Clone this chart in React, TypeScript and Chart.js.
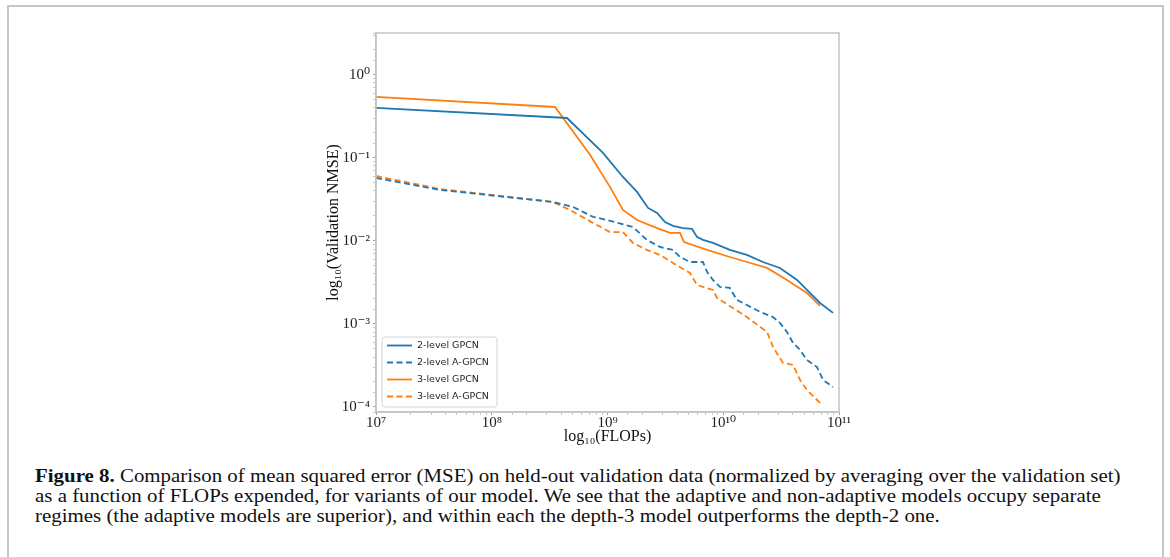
import React, { useEffect, useRef } from "react";
import { Chart, registerables } from "chart.js";

Chart.register(...registerables);

// ---------- data ----------
const gpcn2Flops = [1e7, 4.47e8, 9.14e8, 1.36e9, 1.8e9, 2.24e9, 2.68e9, 3.14e9, 3.68e9, 4.49e9, 5.37e9, 5.93e9, 6.68e9, 8.15e9, 1.14e10, 1.6e10, 2.2e10, 3.09e10, 4.34e10, 5.29e10, 6.86e10, 8.88e10];
const gpcn2Nmse = [0.4, 0.303, 0.115, 0.059, 0.039, 0.025, 0.0217, 0.0169, 0.0152, 0.0143, 0.014, 0.0112, 0.0103, 0.00946, 0.0078, 0.00678, 0.00558, 0.00473, 0.00339, 0.00257, 0.00179, 0.00136];

const agpcn2Flops = [1e7, 3.57e7, 3.38e8, 5.04e8, 7.5e8, 9.91e8, 1.66e9, 2.19e9, 2.84e9, 3.68e9, 4.23e9, 5.16e9, 6.68e9, 7.24e9, 8.15e9, 9.37e9, 1.14e10, 1.31e10, 1.6e10, 2.08e10, 2.69e10, 3.09e10, 3.55e10, 4.01e10, 4.61e10, 5.29e10, 6.46e10, 7.28e10, 8.88e10];
const agpcn2Nmse = [0.0574, 0.0412, 0.0295, 0.0257, 0.0195, 0.0179, 0.0147, 0.0103, 0.00847, 0.0078, 0.00641, 0.00558, 0.00558, 0.00424, 0.00339, 0.00279, 0.00272, 0.00195, 0.00169, 0.0014, 0.00121, 0.00103, 0.0008, 0.00059, 0.000486, 0.000368, 0.000303, 0.000211, 0.000174];

const gpcn3Flops = [1e7, 3.52e8, 7.06e8, 1.05e9, 1.36e9, 1.8e9, 2.68e9, 3.47e9, 4.23e9, 4.58e9, 7.24e9, 1.14e10, 1.6e10, 2.39e10, 3.55e10, 5.29e10, 6.86e10];
const gpcn3Nmse = [0.543, 0.411, 0.109, 0.0448, 0.0236, 0.0179, 0.0143, 0.0125, 0.0125, 0.00972, 0.0078, 0.00641, 0.00558, 0.00473, 0.00339, 0.00236, 0.00165];

const agpcn3Flops = [1e7, 3.57e7, 3.38e8, 4.74e8, 7.5e8, 1.05e9, 1.36e9, 1.66e9, 2.19e9, 2.84e9, 3.68e9, 5.16e9, 5.93e9, 8.15e9, 8.83e9, 1.21e10, 1.6e10, 2.39e10, 2.69e10, 3.28e10, 4.01e10, 4.61e10, 5.29e10, 6.86e10];
const agpcn3Nmse = [0.0606, 0.0423, 0.0295, 0.0236, 0.0165, 0.0128, 0.0128, 0.00946, 0.0078, 0.00678, 0.00543, 0.00411, 0.00295, 0.00257, 0.00206, 0.00156, 0.00121, 0.0008, 0.000529, 0.000339, 0.000321, 0.000211, 0.00016, 0.000112];

const seriesLabels = ["2-level GPCN", "2-level A-GPCN", "3-level GPCN", "3-level A-GPCN"];

const xTickExponents = [7, 8, 9, 10, 11];
const xTickLabels = ["10\u2077", "10\u2078", "10\u2079", "10\u00b9\u2070", "10\u00b9\u00b9"];
const yTickExponents = [-4, -3, -2, -1, 0];
const yTickLabels = ["10\u207b\u2074", "10\u207b\u00b3", "10\u207b\u00b2", "10\u207b\u00b9", "10\u2070"];

const xTitle = "log\u2081\u2080(FLOPs)";
const yTitle = "log\u2081\u2080(Validation NMSE)";

const captionBold = "Figure 8.";
const captionLines = [
  " Comparison of mean squared error (MSE) on held-out validation data (normalized by averaging over the validation set)",
  "as a function of FLOPs expended, for variants of our model. We see that the adaptive and non-adaptive models occupy separate",
  "regimes (the adaptive models are superior), and within each the depth-3 model outperforms the depth-2 one.",
];

const BLUE = "#1f77b4";
const ORANGE = "#ff7f0e";

const toPoints = (xs: number[], ys: number[]) => xs.map((x, i) => ({ x, y: ys[i] }));

const isPow10 = (v: number) => {
  const e = Math.log10(v);
  return Math.abs(e - Math.round(e)) < 1e-6;
};

const labelFor = (v: number, exps: number[], labels: string[]) => {
  if (!isPow10(v)) return "";
  const i = exps.indexOf(Math.round(Math.log10(v)));
  return i >= 0 ? labels[i] : "";
};

const spinePlugin = {
  id: "spines",
  afterDatasetsDraw(chart: any) {
    const { ctx, chartArea } = chart;
    ctx.save();
    ctx.strokeStyle = "#c4c4c4";
    ctx.lineWidth = 1.5;
    ctx.strokeRect(chartArea.left, chartArea.top, chartArea.right - chartArea.left, chartArea.bottom - chartArea.top);
    ctx.restore();
  },
};

const legendPlugin = {
  id: "insideLegend",
  afterDraw(chart: any) {
    const { ctx, chartArea } = chart;
    const x0 = chartArea.left + 6;
    const y1 = chartArea.bottom - 5;
    const w = 115;
    const h = 70;
    const y0 = y1 - h;
    ctx.save();
    ctx.beginPath();
    const r = 3;
    ctx.moveTo(x0 + r, y0);
    ctx.lineTo(x0 + w - r, y0);
    ctx.arcTo(x0 + w, y0, x0 + w, y0 + r, r);
    ctx.lineTo(x0 + w, y1 - r);
    ctx.arcTo(x0 + w, y1, x0 + w - r, y1, r);
    ctx.lineTo(x0 + r, y1);
    ctx.arcTo(x0, y1, x0, y1 - r, r);
    ctx.lineTo(x0, y0 + r);
    ctx.arcTo(x0, y0, x0 + r, y0, r);
    ctx.closePath();
    ctx.fillStyle = "rgba(255,255,255,0.85)";
    ctx.fill();
    ctx.strokeStyle = "#d4d4d4";
    ctx.lineWidth = 1;
    ctx.stroke();
    ctx.font = "9.5px 'DejaVu Sans', sans-serif";
    ctx.textBaseline = "middle";
    ctx.textAlign = "left";
    chart.data.datasets.forEach((ds: any, i: number) => {
      const cy = y0 + 8.5 + i * 17;
      ctx.beginPath();
      ctx.strokeStyle = ds.borderColor;
      ctx.lineWidth = ds.borderWidth;
      ctx.setLineDash(ds.borderDash || []);
      ctx.moveTo(x0 + 5, cy);
      ctx.lineTo(x0 + 30, cy);
      ctx.stroke();
      ctx.setLineDash([]);
      ctx.fillStyle = "#262626";
      ctx.fillText(ds.label, x0 + 35, cy);
    });
    ctx.restore();
  },
};

function FigureChart() {
  const ref = useRef<HTMLCanvasElement | null>(null);
  useEffect(() => {
    if (!ref.current) return;
    const dash = [6, 3.5];
    const chart = new Chart(ref.current, {
      type: "line",
      data: {
        datasets: [
          { label: seriesLabels[0], data: toPoints(gpcn2Flops, gpcn2Nmse), borderColor: BLUE, borderWidth: 1.8, pointRadius: 0, fill: false, tension: 0 },
          { label: seriesLabels[1], data: toPoints(agpcn2Flops, agpcn2Nmse), borderColor: BLUE, borderWidth: 1.8, borderDash: dash, pointRadius: 0, fill: false, tension: 0 },
          { label: seriesLabels[2], data: toPoints(gpcn3Flops, gpcn3Nmse), borderColor: ORANGE, borderWidth: 1.8, pointRadius: 0, fill: false, tension: 0 },
          { label: seriesLabels[3], data: toPoints(agpcn3Flops, agpcn3Nmse), borderColor: ORANGE, borderWidth: 1.8, borderDash: dash, pointRadius: 0, fill: false, tension: 0 },
        ],
      },
      options: {
        responsive: false,
        animation: false,
        devicePixelRatio: 1,
        layout: { padding: { left: 324, top: 33, right: 331, bottom: 14 } },
        plugins: { legend: { display: false }, tooltip: { enabled: false } },
        scales: {
          x: {
            type: "logarithmic",
            min: 1e7,
            max: 1e11,
            afterFit: (s: any) => {
              s.height = 34;
            },
            ticks: {
              autoSkip: false,
              maxRotation: 0,
              minRotation: 0,
              padding: 1,
              color: "#222",
              font: { family: "'Liberation Serif', 'DejaVu Serif', serif", size: 15, lineHeight: 1 },
              callback: (v: any) => labelFor(Number(v), xTickExponents, xTickLabels),
            },
            grid: {
              drawOnChartArea: false,
              drawTicks: true,
              tickLength: 3,
              tickColor: (c: any) => (c.tick && isPow10(c.tick.value) ? "#9a9a9a" : "#c8c8c8"),
            },
            border: { display: true, color: "#c4c4c4", width: 1.5 },
            title: {
              display: true,
              text: xTitle,
              color: "#111",
              padding: { top: 0, bottom: 0 },
              font: { family: "'Liberation Serif', 'DejaVu Serif', serif", size: 16, lineHeight: 1.2 },
            },
          },
          y: {
            type: "logarithmic",
            min: 8.7e-5,
            max: 3.2,
            afterFit: (s: any) => {
              s.width = 52;
            },
            ticks: {
              autoSkip: false,
              padding: 3,
              color: "#222",
              font: { family: "'Liberation Serif', 'DejaVu Serif', serif", size: 15 },
              callback: (v: any) => labelFor(Number(v), yTickExponents, yTickLabels),
            },
            grid: {
              drawOnChartArea: false,
              drawTicks: true,
              tickLength: 3,
              tickColor: (c: any) => (c.tick && isPow10(c.tick.value) ? "#9a9a9a" : "#c8c8c8"),
            },
            border: { display: true, color: "#c4c4c4", width: 1.5 },
            title: {
              display: true,
              text: yTitle,
              color: "#111",
              padding: { top: 0, bottom: 0 },
              font: { family: "'Liberation Serif', 'DejaVu Serif', serif", size: 16, lineHeight: 1.2 },
            },
          },
        },
      },
      plugins: [spinePlugin, legendPlugin],
    } as any);
    return () => chart.destroy();
  }, []);
  return <canvas ref={ref} width={1170} height={460} style={{ position: "absolute", left: 0, top: 0 }} />;
}

export default function App() {
  const captionStyle: React.CSSProperties = {
    position: "absolute",
    left: 35,
    top: 466,
    fontFamily: "'Liberation Serif', 'DejaVu Serif', serif",
    fontSize: 19,
    lineHeight: "20px",
    color: "#111",
    whiteSpace: "nowrap",
    transform: "scaleX(1.1)",
    transformOrigin: "0 0",
  };
  return (
    <div style={{ position: "absolute", left: 0, top: 0, width: 1170, height: 557, overflow: "hidden", background: "#fff" }}>
      <div
        style={{
          position: "absolute",
          left: 7,
          top: 5,
          width: 1153,
          height: 600,
          border: "2px solid #c6c6c6",
          boxSizing: "content-box",
        }}
      />
      <FigureChart />
      <div style={captionStyle}>
        <div>
          <b>{captionBold}</b>
          {captionLines[0]}
        </div>
        <div>{captionLines[1]}</div>
        <div>{captionLines[2]}</div>
      </div>
    </div>
  );
}
